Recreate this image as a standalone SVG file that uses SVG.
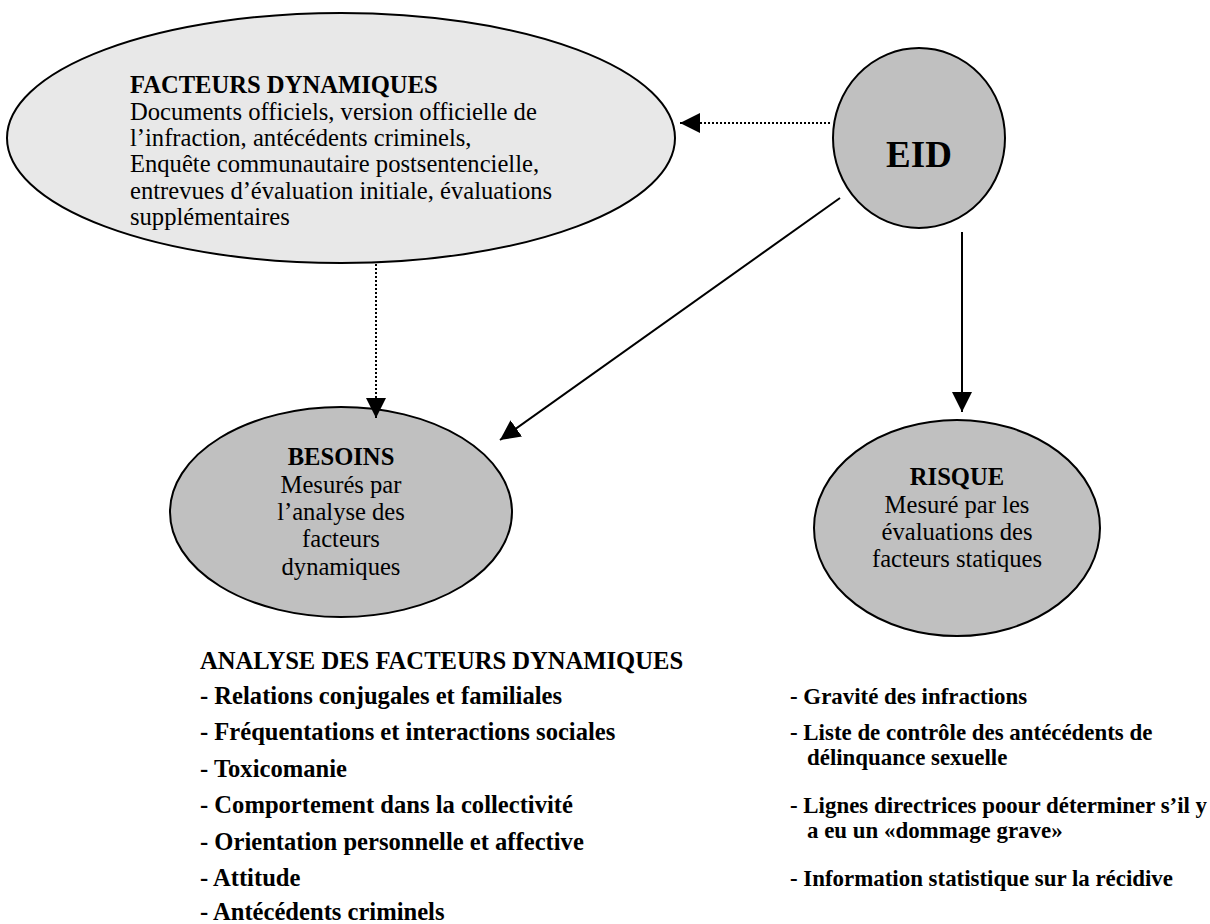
<svg xmlns="http://www.w3.org/2000/svg" width="1210" height="924" viewBox="0 0 1210 924">
<style>
.node{stroke:#000;stroke-width:2}
.t{font-family:"Liberation Serif","Times New Roman",serif;font-size:24.6px;fill:#000}
.b{font-weight:bold}
.l{font-family:"Liberation Serif","Times New Roman",serif;font-size:24.6px;font-weight:bold;fill:#000}
.r{font-size:22.9px}
.c{stroke:#000;stroke-width:2;fill:none}
.d{stroke-dasharray:2 2}
</style>
<defs>
<marker id="ahb" viewBox="0 0 10 10" refX="10" refY="5" markerWidth="20" markerHeight="20" markerUnits="userSpaceOnUse" orient="auto">
<path d="M0,0 L10,5 L0,10 Z" fill="#000"/>
</marker>
</defs>
<rect width="1210" height="924" fill="#fff"/>
<g id="facteurs">
<ellipse class="node" cx="341" cy="138" rx="334" ry="125" fill="#e8e8e8"/>
<text class="t b" x="130" y="93">FACTEURS DYNAMIQUES</text>
<text class="t" x="130" y="120">Documents officiels, version officielle de</text>
<text class="t" x="130" y="146">l’infraction, antécédents criminels,</text>
<text class="t" x="130" y="172">Enquête communautaire postsentencielle,</text>
<text class="t" x="130" y="199">entrevues d’évaluation initiale, évaluations</text>
<text class="t" x="130" y="225">supplémentaires</text>
</g>
<g id="eid">
<ellipse class="node" cx="919" cy="138" rx="86" ry="90" fill="#c0c0c0"/>
<text class="t b" x="919" y="167" text-anchor="middle" style="font-size:37px">EID</text>
</g>
<g id="besoins">
<ellipse class="node" cx="341" cy="512" rx="171" ry="105" fill="#c0c0c0"/>
<text class="t b" x="341" y="465" text-anchor="middle">BESOINS</text>
<text class="t" x="341" y="493" text-anchor="middle">Mesurés par</text>
<text class="t" x="341" y="520" text-anchor="middle">l’analyse des</text>
<text class="t" x="341" y="547" text-anchor="middle">facteurs</text>
<text class="t" x="341" y="575" text-anchor="middle">dynamiques</text>
</g>
<g id="risque">
<ellipse class="node" cx="957" cy="528" rx="143" ry="108" fill="#c0c0c0"/>
<text class="t b" x="957" y="485" text-anchor="middle">RISQUE</text>
<text class="t" x="957" y="513" text-anchor="middle">Mesuré par les</text>
<text class="t" x="957" y="540" text-anchor="middle">évaluations des</text>
<text class="t" x="957" y="567" text-anchor="middle">facteurs statiques</text>
</g>
<g id="connectors">
<line class="c d" x1="830" y1="123" x2="680" y2="123" marker-end="url(#ahb)"/>
<line class="c d" x1="376" y1="264" x2="376" y2="418" marker-end="url(#ahb)"/>
<line class="c" x1="840" y1="198" x2="500" y2="440" marker-end="url(#ahb)"/>
<line class="c" x1="962" y1="232" x2="962" y2="412" marker-end="url(#ahb)"/>
</g>
<g id="analyse">
<text class="l" x="200" y="669">ANALYSE DES FACTEURS DYNAMIQUES</text>
<text class="l" x="200" y="704">- Relations conjugales et familiales</text>
<text class="l" x="200" y="740">- Fréquentations et interactions sociales</text>
<text class="l" x="200" y="777">- Toxicomanie</text>
<text class="l" x="200" y="813">- Comportement dans la collectivité</text>
<text class="l" x="200" y="850">- Orientation personnelle et affective</text>
<text class="l" x="200" y="886">- Attitude</text>
<text class="l" x="200" y="920">- Antécédents criminels</text>
</g>
<g id="statiques">
<text class="l r" x="790" y="704">- Gravité des infractions</text>
<text class="l r" x="790" y="740">- Liste de contrôle des antécédents de</text>
<text class="l r" x="807" y="765">délinquance sexuelle</text>
<text class="l r" x="790" y="813">- Lignes directrices poour déterminer s’il y</text>
<text class="l r" x="807" y="838">a eu un «dommage grave»</text>
<text class="l r" x="790" y="886">- Information statistique sur la récidive</text>
</g>
</svg>
